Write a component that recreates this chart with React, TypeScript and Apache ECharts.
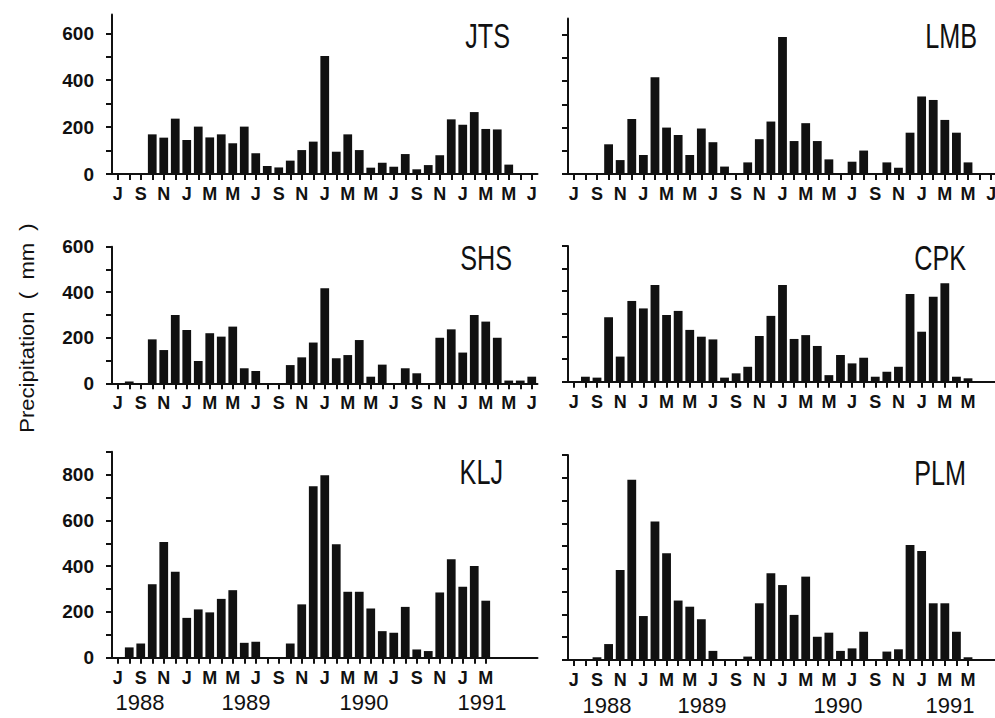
import React, { useEffect, useRef } from 'react';
import * as echarts from 'echarts';

// Months from Jul 1988 to Jul 1991
const months = [
  'Jul 1988', 'Aug 1988', 'Sep 1988', 'Oct 1988', 'Nov 1988', 'Dec 1988',
  'Jan 1989', 'Feb 1989', 'Mar 1989', 'Apr 1989', 'May 1989', 'Jun 1989',
  'Jul 1989', 'Aug 1989', 'Sep 1989', 'Oct 1989', 'Nov 1989', 'Dec 1989',
  'Jan 1990', 'Feb 1990', 'Mar 1990', 'Apr 1990', 'May 1990', 'Jun 1990',
  'Jul 1990', 'Aug 1990', 'Sep 1990', 'Oct 1990', 'Nov 1990', 'Dec 1990',
  'Jan 1991', 'Feb 1991', 'Mar 1991', 'Apr 1991', 'May 1991', 'Jun 1991',
  'Jul 1991',
];

const stations = ['JTS', 'LMB', 'SHS', 'CPK', 'KLJ', 'PLM'];
const years = ['1988', '1989', '1990', '1991'];
const yTitle = 'Precipitation  (  mm  )';

// Monthly precipitation (mm)
const jts = [0, 0, 0, 169, 155, 236, 145, 202, 156, 169, 131, 202, 88, 34, 28, 57, 102, 138, 503, 95, 169, 102, 27, 48, 31, 85, 20, 38, 80, 233, 210, 264, 192, 190, 40, 0, 0];
const lmb = [0, 0, 0, 128, 60, 237, 82, 417, 200, 168, 82, 196, 137, 32, 0, 50, 150, 226, 590, 142, 219, 142, 63, 0, 53, 101, 0, 50, 27, 178, 334, 319, 233, 178, 50, 0, 0];
const shs = [0, 8, 0, 193, 146, 300, 234, 98, 220, 205, 249, 66, 54, 0, 0, 80, 114, 179, 417, 110, 124, 190, 29, 82, 0, 66, 44, 0, 200, 237, 135, 300, 271, 200, 12, 12, 29];
const cpk = [0, 22, 18, 285, 111, 357, 324, 428, 295, 313, 229, 199, 187, 18, 37, 66, 202, 291, 428, 189, 206, 158, 29, 118, 81, 106, 22, 44, 66, 388, 221, 376, 435, 22, 15, 0, 0];
const klj = [0, 45, 62, 321, 506, 375, 174, 211, 198, 257, 295, 65, 70, 0, 0, 62, 233, 749, 797, 496, 288, 288, 215, 116, 109, 222, 36, 29, 285, 430, 310, 401, 249, 0, 0, 0, 0];
const plm = [0, 0, 12, 70, 395, 791, 193, 608, 469, 261, 234, 179, 40, 0, 0, 15, 249, 381, 329, 198, 366, 102, 120, 40, 51, 124, 0, 37, 47, 505, 479, 249, 249, 124, 12, 0, 0];

// Axis ticks and labels
const ticks600 = [0, 100, 200, 300, 400, 500, 600];
const ticks900 = [0, 100, 200, 300, 400, 500, 600, 700, 800, 900];
const labels600 = [0, 200, 400, 600];
const labels800 = [0, 200, 400, 600, 800];

const sans = "'Liberation Sans', Arial, sans-serif";
const ink = '#111';

const LEFT = { left: 112, width: 425.5 };
const RIGHT = { left: 568, width: 429 };

const panels = [
  { name: stations[0], data: jts, col: LEFT, top: 14.5, height: 159.5, max: 680, ticks: ticks600, labels: labels600, showLabels: true, lastTick: 36, tx: 510, ty: 35 },
  { name: stations[1], data: lmb, col: RIGHT, top: 18.5, height: 155.5, max: 670, ticks: ticks600, labels: labels600, showLabels: false, lastTick: 36, tx: 977, ty: 35 },
  { name: stations[2], data: shs, col: LEFT, top: 246.7, height: 136.6, max: 600, ticks: ticks600, labels: labels600, showLabels: true, lastTick: 36, tx: 512, ty: 257 },
  { name: stations[3], data: cpk, col: RIGHT, top: 246, height: 135.7, max: 600, ticks: ticks600, labels: labels600, showLabels: false, lastTick: 34, tx: 966, ty: 257 },
  { name: stations[4], data: klj, col: LEFT, top: 451.7, height: 206, max: 900, ticks: ticks900, labels: labels800, showLabels: true, lastTick: 32, tx: 503, ty: 471 },
  { name: stations[5], data: plm, col: RIGHT, top: 455, height: 205, max: 900, ticks: ticks900, labels: labels800, showLabels: false, lastTick: 34, tx: 966, ty: 472 },
];

const yearPos = {
  left: { xs: [140, 246, 364, 482], y: 702 },
  right: { xs: [607, 702, 838, 950], y: 705 },
};

export default function App() {
  const ref = useRef<HTMLDivElement>(null);

  useEffect(() => {
    if (!ref.current) return;
    const chart = echarts.init(ref.current, undefined, { renderer: 'svg' });
    const lineStyle = { color: ink, width: 2 };

    const graphic: any[] = [];
    panels.forEach((p) => {
      graphic.push({
        type: 'text', x: p.tx, y: p.ty, scaleX: 0.72,
        style: { text: p.name, fontFamily: sans, fontSize: 35, fill: ink, align: 'right', verticalAlign: 'middle' },
      });
    });
    (['left', 'right'] as const).forEach((k) => {
      years.forEach((yr, i) => {
        graphic.push({
          type: 'text', x: yearPos[k].xs[i], y: yearPos[k].y,
          style: { text: yr, fontFamily: sans, fontSize: 22, fill: ink, align: 'center', verticalAlign: 'middle' },
        });
      });
    });
    graphic.push({
      type: 'text', x: 27, y: 328, rotation: Math.PI / 2, scaleX: 1.05, scaleY: 0.95,
      style: { text: yTitle, fontFamily: sans, fontSize: 21, fill: ink, align: 'center', verticalAlign: 'middle' },
    });

    chart.setOption({
      animation: false,
      backgroundColor: '#fff',
      grid: panels.map((p) => ({
        left: p.col.left, width: p.col.width, top: p.top, height: p.height,
        containLabel: false, outerBoundsMode: 'none',
      })),
      xAxis: panels.map((p, i) => ({
        type: 'category', gridIndex: i, data: months, boundaryGap: true,
        axisLine: { show: true, lineStyle },
        axisTick: {
          show: true, alignWithLabel: true, length: 6, lineStyle,
          interval: (idx: number) => idx <= p.lastTick,
        },
        axisLabel: {
          interval: (idx: number) => idx % 2 === 0 && idx <= p.lastTick,
          formatter: (v: string) => v.charAt(0),
          fontFamily: sans, fontWeight: 'bold', fontSize: 18, color: ink, margin: 11,
        },
        splitLine: { show: false },
      })),
      yAxis: panels.map((p, i) => ({
        type: 'value', gridIndex: i, min: 0, max: p.max,
        axisLine: { show: true, lineStyle },
        axisTick: { show: true, length: 6, lineStyle, customValues: p.ticks },
        axisLabel: {
          show: p.showLabels, customValues: p.labels,
          fontFamily: sans, fontWeight: 'bold', fontSize: 19, color: ink, margin: 18,
        },
        splitLine: { show: false },
      })),
      series: panels.map((p, i) => ({
        type: 'bar', name: p.name, xAxisIndex: i, yAxisIndex: i, data: p.data,
        barCategoryGap: '24%', itemStyle: { color: ink },
      })),
      graphic,
    });

    return () => chart.dispose();
  }, []);

  return <div ref={ref} style={{ position: 'fixed', left: 0, top: 0, width: 995, height: 718, background: '#fff' }} />;
}
